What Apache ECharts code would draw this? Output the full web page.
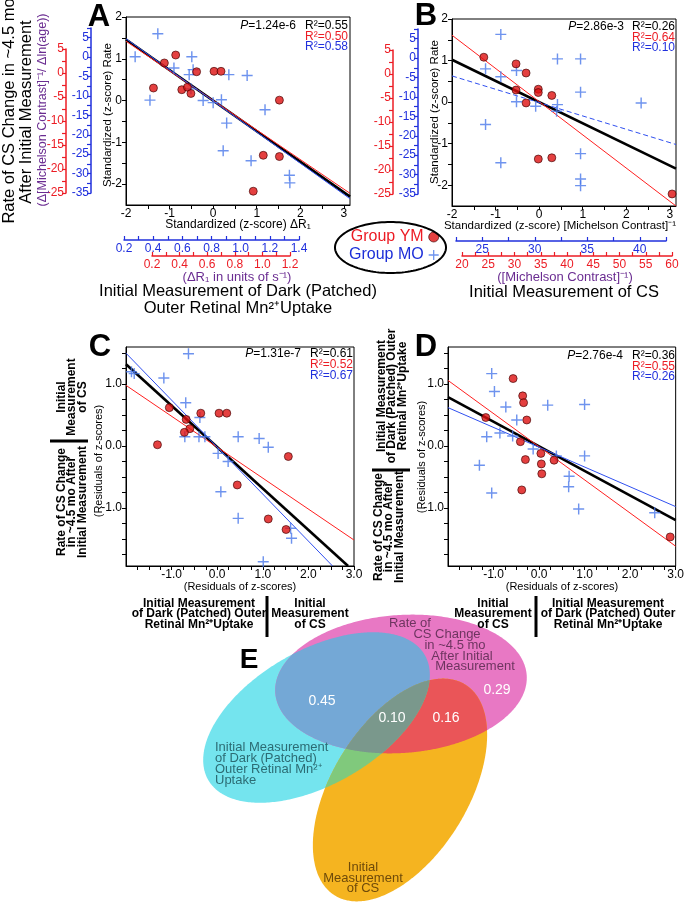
<!DOCTYPE html>
<html><head><meta charset="utf-8">
<script src="https://cdn.jsdelivr.net/npm/echarts@6/dist/echarts.min.js"></script>
<style>html,body{margin:0;padding:0;background:#fff}#c{width:687px;height:907px}</style>
</head><body><div id="c"></div>
<script>
// ---------------- DATA ----------------
// Panel A: standardized dR1 (x) vs standardized rate (y)
const A_YM = [[-1.37,0.30],[-1.12,0.90],[-0.86,1.09],[-0.72,0.26],[-0.59,0.32],[-0.51,0.17],[-0.38,0.69],[0.02,0.70],[0.18,0.70],[1.52,0.01],[1.15,-1.31],[1.52,-1.34],[0.92,-2.17]];
const A_MO = [[-1.79,1.05],[-1.27,1.60],[-1.45,0.01],[-0.90,0.78],[-0.49,1.05],[-0.55,0.62],[-0.46,0.74],[-0.51,0.28],[-0.23,0.00],[0.00,-0.05],[0.19,0.02],[0.36,0.62],[0.31,-0.54],[0.23,-1.20],[0.78,0.60],[1.19,-0.22],[0.87,-1.44],[1.75,-1.79],[1.76,-1.97]];
const A_FIT_ALL = [[-2,1.46],[3.14,-2.30]];
const A_FIT_YM = [[-2,1.42],[3.14,-2.22]];
const A_FIT_MO = [[-2,1.48],[3.14,-2.35]];
// Panel B: standardized [Michelson contrast]^-1 (x) vs standardized rate (y)
const B_YM = [[-1.27,1.08],[-0.53,0.92],[-0.30,0.70],[-0.53,0.29],[-0.02,0.31],[-0.02,0.23],[0.29,0.16],[-0.30,-0.02],[-0.02,-1.37],[0.29,-1.34],[3.05,-2.21]];
const B_MO = [[-1.23,0.80],[-0.88,1.63],[-0.88,0.61],[-1.23,-0.54],[-0.88,-1.46],[-0.52,0.76],[-0.52,0.01],[-0.08,-0.10],[0.42,1.04],[0.42,-0.06],[0.40,-0.22],[0.95,1.04],[0.95,0.24],[0.95,-1.24],[0.95,-1.85],[0.95,-2.01],[2.34,-0.02]];
const B_FIT_ALL = [[-2,1.02],[3.14,-1.60]];
const B_FIT_YM = [[-2,1.61],[3.14,-2.50]];
const B_FIT_MO = [[-2,0.63],[3.14,-1.02]];
// Panel C: residuals
const C_YM = [[-1.31,0.02],[-1.05,0.62],[-0.68,0.43],[-0.60,0.28],[-0.72,0.22],[-0.36,0.53],[0.04,0.53],[0.21,0.53],[0.44,-0.63],[1.12,-1.18],[1.51,-1.35],[1.56,-0.17]];
const C_MO = [[-1.88,1.20],[-1.82,1.17],[-0.63,1.49],[-1.17,1.10],[-0.69,0.70],[-0.38,0.46],[-0.71,0.15],[-0.40,0.15],[-0.27,0.15],[0.02,-0.12],[0.24,-0.25],[0.08,-0.74],[0.46,0.15],[0.92,0.12],[1.12,-0.02],[0.46,-1.17],[1.01,-1.87],[1.61,-1.33],[1.63,-1.49]];
const C_FIT_ALL = [[-2,1.32],[2.87,-1.94]];
const C_FIT_YM = [[-2,0.98],[3,-1.52]];
const C_FIT_MO = [[-2,1.50],[2.53,-1.94]];
// Panel D: residuals
const D_YM = [[-0.57,1.09],[-0.36,0.81],[-0.34,0.70],[-0.27,0.42],[-0.41,0.07],[-0.30,-0.22],[0.04,-0.12],[0.05,-0.29],[0.06,-0.45],[-0.38,-0.71],[0.33,-0.23],[-1.17,0.46],[2.88,-1.47]];
const D_MO = [[-1.04,1.17],[-0.98,0.88],[-0.73,0.63],[-0.49,0.42],[-0.86,0.21],[-1.15,0.15],[-0.58,0.16],[-1.31,-0.31],[-1.04,-0.76],[-0.13,-0.05],[0.19,0.66],[0.38,-0.16],[1.00,0.67],[1.00,-0.16],[0.66,-0.49],[0.65,-0.66],[0.87,-1.02],[2.54,-1.08]];
const D_FIT_ALL = [[-2,0.79],[3,-1.20]];
const D_FIT_YM = [[-2,1.06],[3,-1.62]];
const D_FIT_MO = [[-2,0.62],[3,-0.98]];
// statistics text
const STATS = {
  A:{p:'1.24e-6', r2:['0.55','0.50','0.58']},
  B:{p:'2.86e-3', r2:['0.26','0.64','0.10']},
  C:{p:'1.31e-7', r2:['0.61','0.52','0.67']},
  D:{p:'2.76e-4', r2:['0.36','0.55','0.26']}
};
// Venn values: [dark-Mn ∩ rate, all three, rate ∩ CS, rate only]
const VENN_VALUES = [0.45, 0.10, 0.16, 0.29];
// ---------------- TICKS ----------------
const AB_X_LABELS = [-2,-1,0,1,2,3];
const AB_X_TICKS = [-1.5,-1,-0.5,0,0.5,1,1.5,2,2.5,3];
const AB_Y_LABELS = [-2,-1,0,1,2];
const AB_Y_TICKS = [-2,-1.5,-1,-0.5,0,0.5,1,1.5,2];
const CD_X_LABELS = [-1,0,1,2,3];
const CD_X_TICKS = [-1.75,-1.5,-1.25,-1,-0.75,-0.5,-0.25,0,0.25,0.5,0.75,1,1.25,1.5,1.75,2,2.25,2.5,2.75,3];
const CD_Y_LABELS = [-1,0,1];
const CD_Y_TICKS = [-1.75,-1.5,-1.25,-1,-0.75,-0.5,-0.25,0,0.25,0.5,0.75,1,1.25,1.5];
const RED_Y_LABELS = [-25,-20,-15,-10,-5,0,5];
const RED_Y_TICKS = [-25,-22.5,-20,-17.5,-15,-12.5,-10,-7.5,-5,-2.5,0,2.5,5];
const BLUE_Y_LABELS = [-35,-30,-25,-20,-15,-10,-5,0,5];
const BLUE_Y_TICKS = [-35,-32.5,-30,-27.5,-25,-22.5,-20,-17.5,-15,-12.5,-10,-7.5,-5,-2.5,0,2.5,5,7.5];
const R1_BLUE_LABELS = [0.2,0.4,0.6,0.8,1.0,1.2,1.4];
const R1_BLUE_TICKS = [0.2,0.3,0.4,0.5,0.6,0.7,0.8,0.9,1.0,1.1,1.2,1.3,1.4];
const R1_RED_LABELS = [0.2,0.4,0.6,0.8,1.0,1.2];
const R1_RED_TICKS = [0.2,0.3,0.4,0.5,0.6,0.7,0.8,0.9,1.0,1.1,1.2];
const MC_BLUE_LABELS = [25,30,35,40];
const MC_BLUE_TICKS = [22.5,25,27.5,30,32.5,35,37.5,40,42.5];
const MC_RED_LABELS = [20,25,30,35,40,45,50,55,60];
const MC_RED_TICKS = [20,22.5,25,27.5,30,32.5,35,37.5,40,42.5,45,47.5,50,52.5,55,57.5,60];

// ---------------- STYLE ----------------
const FONT = "'Liberation Sans', Arial, Helvetica, sans-serif";
const NARROW = "'Liberation Sans Narrow', 'Arial Narrow', 'Liberation Sans', sans-serif";
const RED = '#ec1c24', BLUE = '#2030dd', PURPLE = '#6a2c91';
const DOT_RED = '#dd1010', CROSS_BLUE = '#4a78ea';
const CROSS = 'path://M4.35,0h1.3v10h-1.3z M0,4.35h10v1.3h-10z';

const chart = echarts.init(document.getElementById('c'), null, {renderer:'canvas'});

function mainX(grid, min, max, labels, ticks, fmt){
  return {gridIndex:grid, type:'value', min, max,
    axisLine:{onZero:false, lineStyle:{color:'#000', width:1}},
    axisTick:{customValues:ticks, length:4, lineStyle:{color:'#000'}},
    axisLabel:{customValues:labels, margin:3, fontSize:12, color:'#000', fontFamily:FONT, formatter:fmt},
    splitLine:{show:false}};
}
function mainY(grid, min, max, labels, ticks, fmt){
  return {gridIndex:grid, type:'value', min, max,
    axisLine:{onZero:false, lineStyle:{color:'#000', width:1}},
    axisTick:{customValues:ticks, length:4, lineStyle:{color:'#000'}},
    axisLabel:{customValues:labels, margin:4, fontSize:12, color:'#000', fontFamily:FONT, formatter:fmt},
    splitLine:{show:false}};
}
function extraY(grid, min, max, labels, ticks, color){
  return {gridIndex:grid, type:'value', min, max, position:'left',
    axisLine:{show:true, onZero:false, lineStyle:{color, width:1.5}},
    axisTick:{show:true, customValues:ticks, length:4, lineStyle:{color, width:1.2}},
    axisLabel:{customValues:labels, margin:2, fontSize:12, color, fontFamily:FONT},
    splitLine:{show:false}};
}
function extraX(grid, min, max, labels, ticks, color, dec){
  return {gridIndex:grid, type:'value', min, max, position:'bottom',
    axisLine:{show:true, onZero:false, lineStyle:{color, width:1.5}},
    axisTick:{show:true, inside:true, customValues:ticks, length:4, lineStyle:{color, width:1.2}},
    axisLabel:{customValues:labels, margin:3, fontSize:12, color, fontFamily:FONT, formatter:v=>dec?v.toFixed(dec):String(v)},
    splitLine:{show:false}};
}
function hidden(grid){ return {gridIndex:grid, type:'value', min:0, max:1, show:false}; }

const f0 = v => String(Math.round(v));
const f1 = v => v.toFixed(1);

const grids = [
  {left:126, top:17, width:224, height:188},
  {left:452, top:19, width:224, height:187},
  {left:126, top:347, width:228, height:219},
  {left:448, top:347, width:228, height:219},
  {left:66, top:49, width:10, height:144},
  {left:91, top:28, width:10, height:165},
  {left:393, top:50, width:10, height:144},
  {left:418, top:29, width:10, height:165},
  {left:124, top:230, width:175, height:10},
  {left:152, top:246, width:138, height:10},
  {left:456, top:231, width:210, height:10},
  {left:462, top:246, width:210, height:10}
].map((g,i)=>Object.assign(g, i<4 ? {show:true, borderColor:'#000', borderWidth:1} : {show:false}));

const xAxes = [
  mainX(0,-2,3.14,AB_X_LABELS,AB_X_TICKS,f0),
  mainX(1,-2,3.14,AB_X_LABELS,AB_X_TICKS,f0),
  mainX(2,-2,3,CD_X_LABELS,CD_X_TICKS,f1),
  mainX(3,-2,3,CD_X_LABELS,CD_X_TICKS,f1),
  hidden(4),hidden(5),hidden(6),hidden(7),
  extraX(8,0.2,1.4,R1_BLUE_LABELS,R1_BLUE_TICKS,BLUE,1),
  extraX(9,0.2,1.2,R1_RED_LABELS,R1_RED_TICKS,RED,1),
  extraX(10,22.5,42.5,MC_BLUE_LABELS,MC_BLUE_TICKS,BLUE,0),
  extraX(11,20,60,MC_RED_LABELS,MC_RED_TICKS,RED,0)
];
const yAxes = [
  mainY(0,-2.5,2,AB_Y_LABELS,AB_Y_TICKS,f0),
  mainY(1,-2.5,2,AB_Y_LABELS,AB_Y_TICKS,f0),
  mainY(2,-1.94,1.6,CD_Y_LABELS,CD_Y_TICKS,f1),
  mainY(3,-1.94,1.6,CD_Y_LABELS,CD_Y_TICKS,f1),
  extraY(4,-25,5,RED_Y_LABELS,RED_Y_TICKS,RED),
  extraY(5,-35,7.5,BLUE_Y_LABELS,BLUE_Y_TICKS,BLUE),
  extraY(6,-25,5,RED_Y_LABELS,RED_Y_TICKS,RED),
  extraY(7,-35,7.5,BLUE_Y_LABELS,BLUE_Y_TICKS,BLUE),
  hidden(8),hidden(9),hidden(10),hidden(11)
];

const series = [];
function addPanel(idx, ym, mo, fitAll, fitYM, fitMO, moDashed){
  const ax = {xAxisIndex:idx, yAxisIndex:idx};
  series.push(Object.assign({type:'line', name:'fit all '+idx, data:fitAll, symbol:'none', silent:true, lineStyle:{color:'#000', width:2.6}, z:3}, ax));
  series.push(Object.assign({type:'line', name:'fit YM '+idx, data:fitYM, symbol:'none', silent:true, lineStyle:{color:'#ff2020', width:1}, z:3}, ax));
  series.push(Object.assign({type:'line', name:'fit MO '+idx, data:fitMO, symbol:'none', silent:true, lineStyle:{color:'#3050f0', width:1, type: moDashed?[5,3]:'solid'}, z:3}, ax));
  series.push(Object.assign({type:'scatter', name:'Group MO', data:mo, symbol:CROSS, symbolSize:11, itemStyle:{color:CROSS_BLUE}, z:4}, ax));
  series.push(Object.assign({type:'scatter', name:'Group YM', data:ym, symbol:'circle', symbolSize:8, itemStyle:{color:DOT_RED, borderColor:'#3a0000', borderWidth:0.8}, z:5}, ax));
}
addPanel(0, A_YM, A_MO, A_FIT_ALL, A_FIT_YM, A_FIT_MO, false);
addPanel(1, B_YM, B_MO, B_FIT_ALL, B_FIT_YM, B_FIT_MO, true);
addPanel(2, C_YM, C_MO, C_FIT_ALL, C_FIT_YM, C_FIT_MO, false);
addPanel(3, D_YM, D_MO, D_FIT_ALL, D_FIT_YM, D_FIT_MO, false);

// ---------------- GRAPHIC (texts, venn) ----------------
const G = [];
function T(text, x, y, o){
  o = o || {};
  G.push({type:'text', x, y, rotation:o.rot||0, z:o.z||20, silent:true,
    style:{text, fill:o.color||'#000', fontSize:o.size||12, fontFamily:o.family||FONT,
      fontWeight:o.weight||'normal', fontStyle:o.style||'normal',
      align:o.align||'center', verticalAlign:'middle', lineHeight:o.lh, rich:o.rich}});
}
const ROT = Math.PI/2;
// panel letters
T('A',99,17,{size:31,weight:'bold'});
T('B',426,16,{size:31,weight:'bold'});
T('C',100,347,{size:31,weight:'bold'});
T('D',426,347,{size:31,weight:'bold'});
T('E',249,660,{size:28,weight:'bold'});
// stats
function stats(k, px, rx, y0, dy){
  const s = STATS[k];
  T('{i|P}=' + s.p, px, y0, {align:'right', size:12, rich:{i:{fontStyle:'italic', fontSize:12, fontFamily:FONT}}});
  T('R\u00b2=' + s.r2[0], rx, y0, {align:'left'});
  T('R\u00b2=' + s.r2[1], rx, y0+dy, {align:'left', color:RED});
  T('R\u00b2=' + s.r2[2], rx, y0+dy*2, {align:'left', color:BLUE});
}
stats('A',296,305,26,10.5);
stats('B',624,632,27,10.5);
stats('C',301,310,354,11);
stats('D',623,632,356,10.5);
// panel A/B axis titles
T('Standardized (z-score) Rate',108,115,{rot:ROT, size:11.5});
T('Standardized (z-score) Rate',435,112,{rot:ROT, size:11.5});
T('Standardized (z-score) \u0394R\u2081',238,225,{size:12});
T('Standardized (z-score) [Michelson Contrast]\u207b\u00b9',560,226,{size:11.5});
// far-left title
T('Rate of CS Change in ~4.5 mo',9,111,{rot:ROT, size:16.5});
T('After Initial Measurement',26,112,{rot:ROT, size:16.5});
T('(\u0394[Michelson Contrast]\u207b\u00b9/ \u0394ln(age))',43,110,{rot:ROT, size:12.5, color:PURPLE});
// under A and B
T('(\u0394R\u2081 in units of s\u207b\u00b9)',237,277,{size:13, color:PURPLE});
T('Initial Measurement of Dark (Patched)',238,291,{size:16.5});
T('Outer Retinal Mn\u00b2\u207aUptake',238,308,{size:16.5});
T('([Michelson Contrast]\u207b\u00b9)',565,277,{size:13, color:PURPLE});
T('Initial Measurement of CS',564,292,{size:16.5});
// C/D axis titles
T('(Residuals of z-scores)',99,461,{rot:ROT, size:11});
T('(Residuals of z-scores)',422,457,{rot:ROT, size:11});
T('(Residuals of z-scores)',240,587,{size:11});
T('(Residuals of z-scores)',562,587,{size:11});
// C/D side and bottom labels (bold narrow)
const NB = {family:NARROW, weight:'bold', size:12, lh:10.5};
T('Initial\nMeasurement\nof CS',72,397,Object.assign({rot:ROT},NB));
T('Rate of CS Change\nin ~4.5 mo After\nInitial Measurement',72,502,Object.assign({rot:ROT},NB));
T('Initial Measurement\nof Dark (Patched) Outer\nRetinal Mn\u00b2\u207aUptake',392,396,Object.assign({rot:ROT},NB));
T('Rate of CS Change\nin ~4.5 mo After\nInitial Measurement',389,527,Object.assign({rot:ROT},NB));
T('Initial Measurement\nof Dark (Patched) Outer\nRetinal Mn\u00b2\u207aUptake',199,614,NB);
T('Initial\nMeasurement\nof CS',310,614,NB);
T('Initial\nMeasurement\nof CS',493,614,NB);
T('Initial Measurement\nof Dark (Patched) Outer\nRetinal Mn\u00b2\u207aUptake',608,614,NB);
function bar(x1,y1,x2,y2){ G.push({type:'line', z:20, silent:true, shape:{x1,y1,x2,y2}, style:{stroke:'#000', lineWidth:3}}); }
bar(50,441,88,441);
bar(372,470,410,470);
bar(267,596,267,637);
bar(536,596,536,637);

// ellipse helper
function ellPts(cx,cy,rx,ry,rotDeg,n){
  const r = rotDeg*Math.PI/180, c=Math.cos(r), s=Math.sin(r), pts=[];
  for(let i=0;i<n;i++){ const t=2*Math.PI*i/n, x=rx*Math.cos(t), y=ry*Math.sin(t); pts.push([cx+x*c-y*s, cy+x*s+y*c]); }
  return pts;
}
function inside(e,p){
  const r=e.rot*Math.PI/180, c=Math.cos(r), s=Math.sin(r), dx=p[0]-e.cx, dy=p[1]-e.cy;
  const lx=c*dx+s*dy, ly=-s*dx+c*dy;
  return (lx*lx)/(e.rx*e.rx)+(ly*ly)/(e.ry*e.ry) <= 1.000001;
}
function inter(list){
  let pts=[];
  list.forEach((e,i)=>{ ellPts(e.cx,e.cy,e.rx,e.ry,e.rot,720).forEach(p=>{ if(list.every((o,j)=>j===i||inside(o,p))) pts.push(p); }); });
  const mx=pts.reduce((a,p)=>a+p[0],0)/pts.length, my=pts.reduce((a,p)=>a+p[1],0)/pts.length;
  pts.sort((a,b)=>Math.atan2(a[1]-my,a[0]-mx)-Math.atan2(b[1]-my,b[0]-mx));
  return pts;
}
// legend frame
G.push({type:'polygon', z:15, silent:true, shape:{points:ellPts(390.5,247.5,55.5,25.5,0,120)}, style:{fill:'none', stroke:'#000', lineWidth:2}});

// venn sets
const SET_MN = {cx:316.5, cy:717.5, rx:125, ry:67, rot:-30};
const SET_RATE = {cx:401, cy:684, rx:126, ry:69, rot:-4};
const SET_CS = {cx:400, cy:790, rx:124, ry:68, rot:-58.3};
function poly(points, fill){ G.push({type:'polygon', z:1, silent:true, shape:{points}, style:{fill}}); }
poly(ellPts(SET_MN.cx,SET_MN.cy,SET_MN.rx,SET_MN.ry,SET_MN.rot,360), '#74e4ee');
poly(ellPts(SET_RATE.cx,SET_RATE.cy,SET_RATE.rx,SET_RATE.ry,SET_RATE.rot,360), '#e878c4');
poly(ellPts(SET_CS.cx,SET_CS.cy,SET_CS.rx,SET_CS.ry,SET_CS.rot,360), '#f5b420');
poly(inter([SET_MN,SET_RATE]), '#74a8d6');
poly(inter([SET_RATE,SET_CS]), '#ea5558');
poly(inter([SET_MN,SET_CS]), '#80c97c');
poly(inter([SET_MN,SET_RATE,SET_CS]), '#7a988c');
// venn labels
const VL = {size:13, z:3};
T('Rate of',410,623,Object.assign({color:'#6e3560'},VL));
T('CS Change',447,634,Object.assign({color:'#6e3560'},VL));
T('in ~4.5 mo',455,645,Object.assign({color:'#6e3560'},VL));
T('After Initial',462,656,Object.assign({color:'#6e3560'},VL));
T('Measurement',475,666,Object.assign({color:'#6e3560'},VL));
T('Initial Measurement\nof Dark (Patched)\nOuter Retinal Mn\u00b2\u207a\nUptake',215,764,Object.assign({color:'#2c6c74', align:'left', lh:11},VL));
T('Initial\nMeasurement\nof CS',363,878,Object.assign({color:'#6e4a0a', lh:10.5},VL));
const VPOS = [[322,701],[392,718],[446,718],[497,690]];
VENN_VALUES.forEach((v,i)=>T(v.toFixed(2),VPOS[i][0],VPOS[i][1],{size:14, color:'#ffffff', z:4}));

chart.setOption({
  animation:false,
  backgroundColor:'#ffffff',
  textStyle:{fontFamily:FONT},
  grid:grids, xAxis:xAxes, yAxis:yAxes, series,
  legend:{show:true, orient:'vertical', left:349, top:229, padding:0, align:'right', itemGap:2, itemWidth:10, itemHeight:10,
    selectedMode:false, textStyle:{fontSize:16, fontFamily:FONT, padding:0},
    data:[
      {name:'Group YM', icon:'circle', itemStyle:{color:DOT_RED, borderColor:'#3a0000', borderWidth:0.8}, textStyle:{color:'#ec1c24'}},
      {name:'Group MO', icon:CROSS, itemStyle:{color:CROSS_BLUE}, textStyle:{color:'#1c2ed8'}}
    ]},
  graphic:G
});
</script></body></html>
